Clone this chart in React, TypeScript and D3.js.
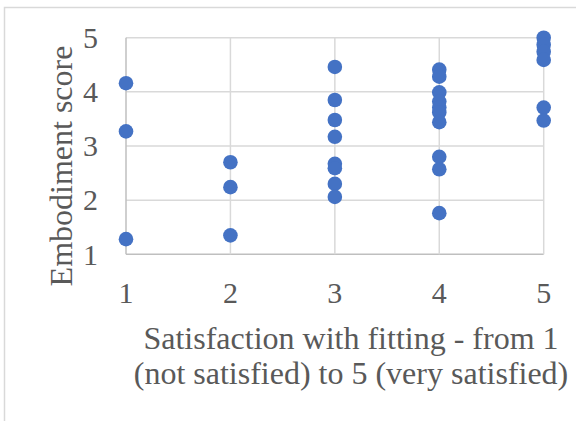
import React from "react";
import * as d3 from "d3";

const xTicks = [1, 2, 3, 4, 5];
const yTicks = [1, 2, 3, 4, 5];
const scoresAt1 = [4.16, 3.27, 1.28];
const scoresAt2 = [2.7, 2.24, 1.35];
const scoresAt3 = [4.46, 3.85, 3.48, 3.17, 2.67, 2.59, 2.3, 2.06];
const scoresAt4 = [4.41, 4.28, 3.99, 3.82, 3.71, 3.62, 3.44, 2.8, 2.57, 1.76];
const scoresAt5 = [5.0, 4.87, 4.74, 4.59, 3.71, 3.47];
const xTitleLines = ["Satisfaction with fitting - from 1", "(not satisfied) to 5 (very satisfied)"];
const yTitle = "Embodiment score";

const W = 576;
const H = 421;

export default function App() {
  const x = d3.scaleLinear().domain([1, 5]).range([126, 543.7]);
  const y = d3.scaleLinear().domain([1, 5]).range([254.3, 37.7]);
  const groups: [number, number[]][] = [
    [1, scoresAt1],
    [2, scoresAt2],
    [3, scoresAt3],
    [4, scoresAt4],
    [5, scoresAt5],
  ];
  const points = groups.flatMap(([sx, vals]) => vals.map((v) => ({ sx, v })));
  const textStyle = { fontFamily: "Liberation Serif, DejaVu Serif, serif" };
  const textColor = "#595959";
  return (
    <svg
      width={W}
      height={H}
      style={{ position: "absolute", left: 0, top: 0, background: "#fff" }}
    >
      <rect x={4.5} y={7.5} width={700} height={600} fill="#fff" stroke="#d9d9d9" strokeWidth={1.5} />
      {yTicks.map((t) => (
        <line
          key={"h" + t}
          x1={x(1)}
          x2={x(5)}
          y1={y(t)}
          y2={y(t)}
          stroke={t === 1 ? "#bfbfbf" : "#d9d9d9"}
          strokeWidth={1.5}
        />
      ))}
      {xTicks.map((t) => (
        <line
          key={"v" + t}
          x1={x(t)}
          x2={x(t)}
          y1={y(1)}
          y2={y(5)}
          stroke={t === 1 ? "#bfbfbf" : "#d9d9d9"}
          strokeWidth={1.5}
        />
      ))}
      {points.map((p, i) => (
        <circle key={i} cx={x(p.sx)} cy={y(p.v)} r={7.3} fill="#4472C4" />
      ))}
      {xTicks.map((t) => (
        <text
          key={"xt" + t}
          x={x(t)}
          y={303}
          textAnchor="middle"
          style={textStyle}
          fontSize={30}
          fill={textColor}
        >
          {t}
        </text>
      ))}
      {yTicks.map((t) => (
        <text
          key={"yt" + t}
          x={98}
          y={y(t)}
          dy="0.34em"
          textAnchor="end"
          style={textStyle}
          fontSize={30}
          fill={textColor}
        >
          {t}
        </text>
      ))}
      {xTitleLines.map((line, i) => (
        <text
          key={"xl" + i}
          x={351}
          y={349 + i * 35}
          textAnchor="middle"
          style={textStyle}
          fontSize={32}
          fill={textColor}
        >
          {line}
        </text>
      ))}
      <text
        transform={`translate(72,166) rotate(-90)`}
        textAnchor="middle"
        style={textStyle}
        fontSize={32}
        fill={textColor}
      >
        {yTitle}
      </text>
    </svg>
  );
}
